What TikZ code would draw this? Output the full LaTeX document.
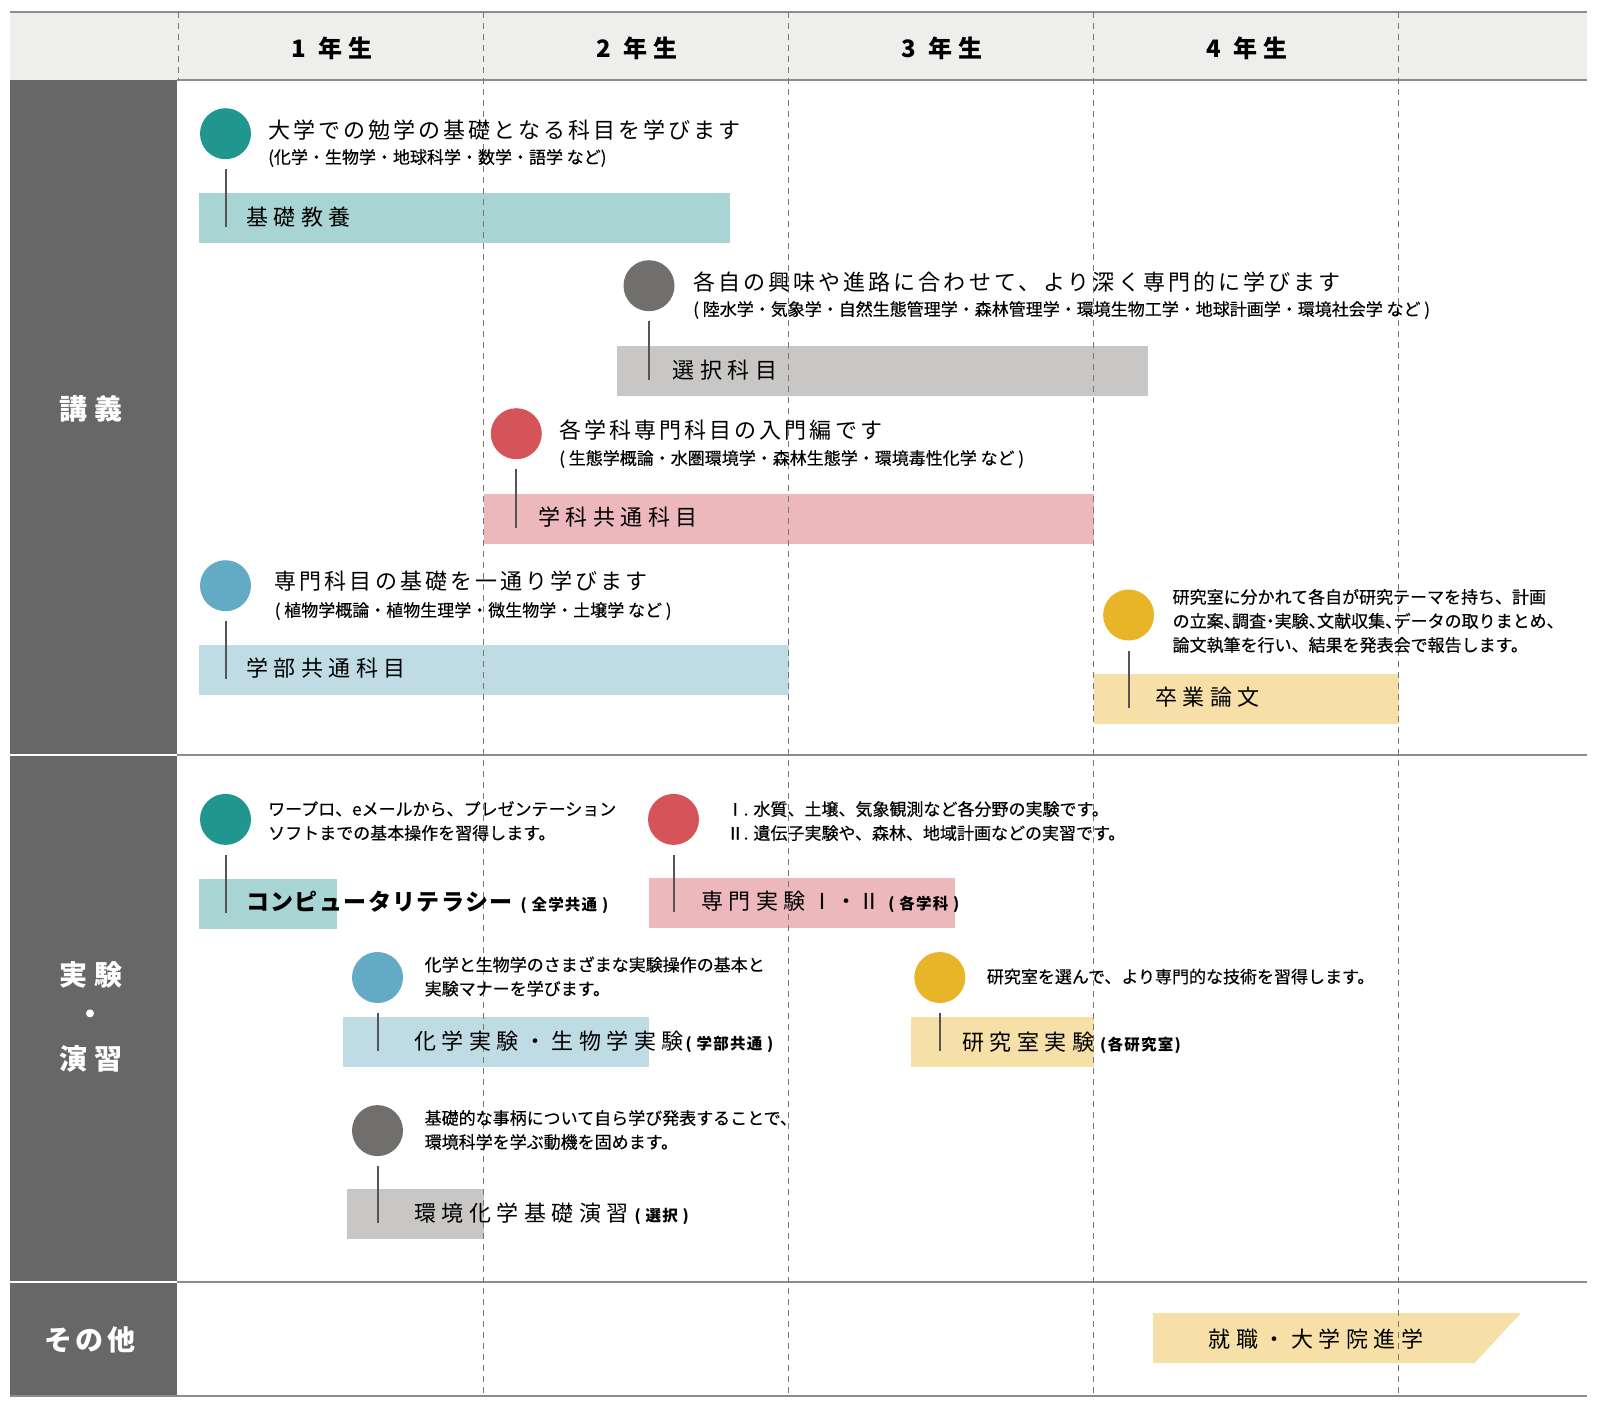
\documentclass[tikz,border=0pt]{standalone}
\usepackage{fontspec}
\setmainfont{Noto Sans CJK JP}
\newfontfamily\jp{Noto Sans CJK JP}
\newfontfamily\jpD[FakeBold=0.4]{Noto Sans CJK JP}
\newfontfamily\jpH[FakeBold=0.4,RawFeature=+halt]{Noto Sans CJK JP}
\newfontfamily\jpT[LetterSpace=14]{Noto Sans CJK JP}
\newfontfamily\jpL[LetterSpace=25]{Noto Sans CJK JP}
\newfontfamily\jpM[LetterSpace=6]{Noto Sans CJK JP}
\newfontfamily\jpP[LetterSpace=8]{Noto Sans CJK JP}
\definecolor{hdr}{HTML}{EEEEEC}
\definecolor{darkcol}{HTML}{666766}
\definecolor{linegray}{HTML}{8C8C8C}
\definecolor{dashgray}{HTML}{777777}
\definecolor{conncol}{HTML}{555555}
\definecolor{cteal}{HTML}{21968F}
\definecolor{lteal}{HTML}{A8D5D3}
\definecolor{cgray}{HTML}{706F6D}
\definecolor{lgray}{HTML}{C8C7C5}
\definecolor{cred}{HTML}{D5545A}
\definecolor{lred}{HTML}{EDB8BB}
\definecolor{cblue}{HTML}{63AAC4}
\definecolor{lblue}{HTML}{BFDCE5}
\definecolor{cyel}{HTML}{E8B428}
\definecolor{lyel}{HTML}{F6E0A8}
\newcommand{\parenlab}[1]{{\jpP\bfseries\fontsize{15.5}{18}\selectfont #1}}
\newcommand{\barlab}[1]{{\jpL\fontsize{22}{26}\selectfont #1}}
\begin{document}
\begin{tikzpicture}[x=1pt,y=-1pt,
  circ/.style={circle, minimum size=51pt, inner sep=0pt, draw=none},
  barbox/.style={rectangle, anchor=north west, inner sep=0pt, draw=none, minimum height=50pt},
  conn/.style={draw=conncol, line width=2pt},
  dsh/.style={draw=dashgray, line width=1.1pt, dash pattern=on 6pt off 5pt},
  gl/.style={draw=linegray, line width=2pt},
  ttl/.style={anchor=west, inner sep=0pt, font=\jpT\fontsize{22}{26}\selectfont},
  sub/.style={anchor=west, inner sep=0pt, font=\jpD\fontsize{17}{20}\selectfont},
  dsc/.style={anchor=west, inner sep=0pt, align=left, font=\jpD\fontsize{17}{24}\selectfont},
  blab/.style={anchor=west, inner sep=0pt, font=\jpL\fontsize{22}{26}\selectfont},
  year/.style={inner sep=0pt, font=\jpL\bfseries\fontsize{24}{28}\selectfont},
  side/.style={inner sep=0pt, text=white, font=\jpL\bfseries\fontsize{28}{32}\selectfont}
]
\useasboundingbox (0,0) rectangle (1600,1413);
% header and side column
\fill[hdr] (10,12) rectangle (1587,80);
\fill[darkcol] (10,80) rectangle (177,1396);
\draw[white, line width=2pt] (10,755) -- (177,755);
\draw[white, line width=2pt] (10,1282) -- (177,1282);
\draw[gl] (10,12) -- (1587,12);
\draw[gl] (177,80) -- (1587,80);
\draw[gl] (177,755) -- (1587,755);
\draw[gl] (177,1282) -- (1587,1282);
\draw[gl] (10,1396) -- (1587,1396);

% bars
\node[barbox, fill=lteal, minimum width=530.6pt] (b1) at (199,193) {};
\node[barbox, fill=lgray, minimum width=531pt] (b2) at (617,346) {};
\node[barbox, fill=lred, minimum width=610.3pt] (b3) at (483.6,494) {};
\node[barbox, fill=lblue, minimum width=589.8pt] (b4) at (199,645) {};
\node[barbox, fill=lyel, minimum width=305.1pt] (b5) at (1093.9,673.5) {};
\node[barbox, fill=lteal, minimum width=137.7pt] (b6) at (199,878.6) {};
\node[barbox, fill=lred, minimum width=306pt] (b7) at (649,877.5) {};
\node[barbox, fill=lblue, minimum width=306pt] (b8) at (343,1017) {};
\node[barbox, fill=lyel, minimum width=183pt] (b9) at (911,1017) {};
\node[barbox, fill=lgray, minimum width=136.6pt] (b10) at (347,1189) {};
\fill[lyel] (1153,1313) -- (1521,1313) -- (1474.5,1363) -- (1153,1363) -- cycle;

% dashed year lines
\draw[dsh] (178.5,12) -- (178.5,80);
\foreach \xx in {483.6,788.7,1093.8,1398.9} \draw[dsh] (\xx,12) -- (\xx,1396);

% year labels
\node[year] (y1) at (332,48) {1 年生};
\node[year] (y2) at (637,48) {2 年生};
\node[year] (y3) at (942,48) {3 年生};
\node[year] (y4) at (1247,48) {4 年生};

% side labels
\node[side] (s1) at (91,409) {講義};
\node[side] (s2) at (91,974.5) {実験};
\node[side] (s3) at (90,1017) {・};
\node[side] (s4) at (91,1059) {演習};
\node[side, font=\jp\bfseries\fontsize{28}{32}\selectfont\addfontfeature{LetterSpace=12}] (s5) at (90,1340) {その他};

% circles
\node[circ, fill=cteal] (c1) at (225.5,133.7) {};
\node[circ, fill=cgray] (c2) at (649,285.7) {};
\node[circ, fill=cred] (c3) at (516.3,433.7) {};
\node[circ, fill=cblue] (c4) at (225.5,585.7) {};
\node[circ, fill=cyel] (c5) at (1128.6,615) {};
\node[circ, fill=cteal] (c6) at (225.5,819.4) {};
\node[circ, fill=cred] (c7) at (673.5,819.4) {};
\node[circ, fill=cblue] (c8) at (377.5,977.5) {};
\node[circ, fill=cyel] (c9) at (939.8,977.5) {};
\node[circ, fill=cgray] (c10) at (377.5,1130.6) {};

% connectors
\draw[conn] ([yshift=-10pt]c1.south) -- ([yshift=-9pt]c1 |- b1.center);
\draw[conn] ([yshift=-10pt]c2.south) -- ([yshift=-9pt]c2 |- b2.center);
\draw[conn] ([yshift=-10pt]c3.south) -- ([yshift=-9pt]c3 |- b3.center);
\draw[conn] ([yshift=-10pt]c4.south) -- ([yshift=-9pt]c4 |- b4.center);
\draw[conn] ([yshift=-10pt]c5.south) -- ([yshift=-9pt]c5 |- b5.center);
\draw[conn] ([yshift=-10pt]c6.south) -- ([yshift=-9pt]c6 |- b6.center);
\draw[conn] ([yshift=-10pt]c7.south) -- ([yshift=-9pt]c7 |- b7.center);
\draw[conn] ([yshift=-10pt]c8.south) -- ([yshift=-9pt]c8 |- b8.center);
\draw[conn] ([yshift=-10pt]c9.south) -- ([yshift=-9pt]c9 |- b9.center);
\draw[conn] ([yshift=-10pt]c10.south) -- ([yshift=-9pt]c10 |- b10.center);

% lecture texts
\node[ttl] (t1) at (268,130) {大学での勉学の基礎となる科目を学びます};
\node[sub] (u1) at (268,158) {(化学・生物学・地球科学・数学・語学 など)};
\node[blab] (l1) at (246,217) {基礎教養};

\node[ttl] (t2) at (693,281.6) {各自の興味や進路に合わせて、より深く専門的に学びます};
\node[sub] (u2) at (693,310) {( 陸水学・気象学・自然生態管理学・森林管理学・環境生物工学・地球計画学・環境社会学 など )};
\node[blab] (l2) at (672.5,370) {選択科目};

\node[ttl] (t3) at (559,429.6) {各学科専門科目の入門編です};
\node[sub] (u3) at (559,459) {( 生態学概論・水圏環境学・森林生態学・環境毒性化学 など )};
\node[blab] (l3) at (537.8,517) {学科共通科目};

\node[ttl] (t4) at (274.5,581.6) {専門科目の基礎を一通り学びます};
\node[sub] (u4) at (274.5,611) {( 植物学概論・植物生理学・微生物学・土壌学 など )};
\node[blab] (l4) at (246,668) {学部共通科目};

\node[dsc] (d5) at (1172.4,621) {研究室に分かれて各自が研究テーマを持ち、計画\\の立案{\jpH 、}調査{\jpH ・}実験{\jpH 、}文献収集{\jpH 、}データの取りまとめ、\\論文執筆を行い、結果を発表会で報告します。};
\node[blab] (l5) at (1155,697) {卒業論文};

% experiment texts
\node[dsc] (d6) at (268,821) {ワープロ、eメールから、プレゼンテーション\\ソフトまでの基本操作を習得します。};
\node[anchor=west, inner sep=0pt] (l6) at (246,902) {{\jpM\bfseries\fontsize{23}{26}\selectfont コンピュータリテラシー}\hspace{8pt}\parenlab{( 全学共通 )}};

\node[dsc] (d7) at (726.5,821) {Ⅰ. 水質、土壌、気象観測など各分野の実験です。\\Ⅱ. 遺伝子実験や、森林、地域計画などの実習です。};
\node[anchor=west, inner sep=0pt] (l7) at (701,902) {\barlab{専門実験}\hspace{6pt}{\jpM\fontsize{22}{26}\selectfont Ⅰ・Ⅱ}\hspace{8pt}\parenlab{( 各学科 )}};

\node[dsc] (d8) at (424.5,976.5) {化学と生物学のさまざまな実験操作の基本と\\実験マナーを学びます。};
\node[anchor=west, inner sep=0pt] (l8) at (414,1042) {\barlab{化学実験・生物学実験}\hspace{2pt}\parenlab{( 学部共通 )}};

\node[dsc] (d9) at (986.7,976.6) {研究室を選んで、より専門的な技術を習得します。};
\node[anchor=west, inner sep=0pt] (l9) at (962,1043) {\barlab{研究室実験}\hspace{6pt}\parenlab{(各研究室)}};

\node[dsc] (d10) at (424.5,1130) {基礎的な事柄について自ら学び発表することで、\\環境科学を学ぶ動機を固めます。};
\node[anchor=west, inner sep=0pt] (l10) at (414,1214) {\barlab{環境化学基礎演習}\hspace{6pt}\parenlab{( 選択 )}};

% other
\node[inner sep=0pt, font=\jpL\fontsize{22}{26}\selectfont] (l11) at (1316,1339) {就職・大学院進学};
\end{tikzpicture}
\end{document}
